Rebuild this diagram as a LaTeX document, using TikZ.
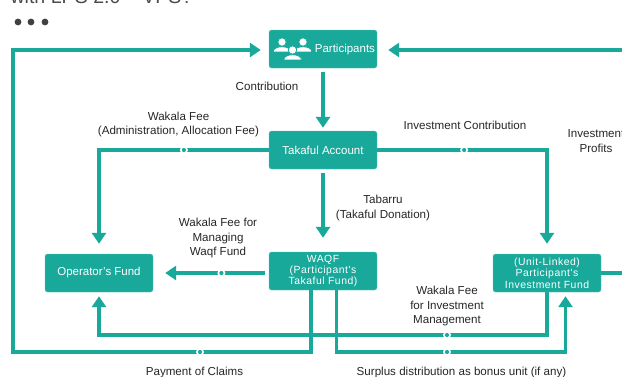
\documentclass[tikz,border=0pt]{standalone}
\usepackage{fontspec}
\setmainfont{Liberation Sans}
\newfontfamily\boxfont[LetterSpace=5]{Liberation Sans}
\usetikzlibrary{arrows.meta}
\definecolor{takafulgreen}{HTML}{19A99B}
\begin{document}
\begin{tikzpicture}[x=1pt,y=-1pt,
    box/.style={draw=takafulgreen!70,fill=takafulgreen,rounded corners=2.5pt,minimum width=108pt,minimum height=38pt,inner sep=0pt,text=white,align=center,font=\fontsize{11.5}{13}\selectfont},
    smallbox/.style={box,font=\boxfont\fontsize{10.4}{11.4}\selectfont,execute at begin node=\rule{0pt}{11pt}},
    flow/.style={draw=takafulgreen,line width=3.8pt,-{Triangle[length=11pt,width=14pt]},shorten >=3pt,shorten <=4pt},
    plain/.style={draw=takafulgreen,line width=3.8pt},
    dot/.style={circle,fill=takafulgreen,draw=white,line width=1.6pt,minimum size=6.2pt,inner sep=0pt},
    caption/.style={align=center,font=\fontsize{11.6}{14.5}\selectfont,text=black!85}]
    \useasboundingbox (0,0) rectangle (622,376);

    \node[font=\fontsize{19.6}{20}\selectfont,text=black!70,anchor=base west] (title) at (7,3.5) {with LPS 2.0 -- VPS?};
    \foreach \x [count=\i] in {18,31,45}
        \node[circle,fill=black!75,minimum size=6.8pt,inner sep=0pt] (menu\i) at (\x,22) {};

    \node[box]      (participants) at (323,49)  {};
    \node[box]      (takaful)      at (323,150) {Takaful Account};
    \node[smallbox] (waqf)         at (323,271) {WAQF\\(Participant's\\Takaful Fund)};
    \node[box]      (operator)     at (99,273)  {Operator's Fund};
    \node[smallbox] (unit)         at (547,273) {(Unit-Linked)\\Participant's\\Investment Fund};
    \node[text=white,anchor=east,font=\fontsize{11.5}{13}\selectfont] (parttext) at (378.5,50) {Participants};

    % people icon
    \foreach \x/\y in {282/42,303/42,292.5/50}{
        \fill[white,draw=takafulgreen,line width=0.8pt] (\x-9,\y+10) .. controls (\x-9,\y+3) and (\x+9,\y+3) .. (\x+9,\y+10) -- cycle;
        \fill[white,draw=takafulgreen,line width=0.8pt] (\x,\y) circle (4.2pt);
    }

    \coordinate (rightin)  at (622,50);
    \coordinate (rightout) at (622,273);
    \coordinate (claimsA)  at (311,352);
    \coordinate (claimsB)  at (13,352);
    \coordinate (claimsC)  at (13,50);
    \coordinate (feeA)     at (547,335);
    \coordinate (feeB)     at (99,335);
    \coordinate (bonusA)   at (336.5,352);
    \coordinate (bonusB)   at (565.5,352);

    \path[flow,shorten <=0pt,shorten >=11pt] (rightin) -- (rightin -| participants.east);
    \path[flow] (participants.south) -- (takaful.north);
    \path[flow,shorten >=14pt] (takaful.south) -- (waqf.north);
    \path[flow,shorten <=0pt,shorten >=10pt] (takaful.west) -| (operator.north) node[dot,pos=0.25] (dotwakala) {};
    \path[flow,shorten <=0pt,shorten >=10pt] (takaful.east) -| (unit.north) node[dot,pos=0.256] (dotinvest) {};
    \path[flow,shorten >=12pt] (waqf.west |- operator.east) -- (operator.east) node[dot,pos=0.41] (dotmanage) {};
    \draw[plain] (waqf.south -| claimsA) -- (claimsA) -- (claimsB) -- (claimsC) -- ++(1.9,0);
    \path[flow,shorten <=0pt,shorten >=8pt] (claimsC) -- (claimsC -| participants.west);
    \node[dot] (dotclaims) at (200,352) {};
    \draw[plain] (unit.south -| feeA) -- (feeA) -- (feeB);
    \path[flow,shorten <=-1.9pt,shorten >=4pt] (feeB) -- (operator.south);
    \node[dot] (dotfee) at (447,335) {};
    \draw[plain] (waqf.south -| bonusA) -- (bonusA) -- (bonusB);
    \path[flow,shorten <=-1.9pt,shorten >=4pt] (bonusB) -- (unit.south -| bonusB);
    \node[dot] (dotbonus) at (447,352) {};
    \draw[plain] (unit.east) -- (rightout);

    \node[caption] (contribution) at (267,86)  {Contribution};
    \node[caption] (wakalafee)    at (178.5,124.5) {Wakala Fee\\(Administration, Allocation Fee)};
    \node[caption] (investcontrib) at (465,125) {Investment Contribution};
    \node[caption] (investprofit) at (596,141) {Investment\\Profits};
    \node[caption] (tabarru)      at (383,208) {Tabarru\\(Takaful Donation)};
    \node[caption] (wakalawaqf)   at (218,238) {Wakala Fee for\\Managing\\Waqf Fund};
    \node[caption] (wakalainvest) at (447,306) {Wakala Fee\\for Investment\\Management};
    \node[caption,anchor=base] (claims) at (194.5,375.5) {Payment of Claims};
    \node[caption,anchor=base] (surplus) at (461.5,375.5) {Surplus distribution as bonus unit (if any)};
\end{tikzpicture}
\end{document}
